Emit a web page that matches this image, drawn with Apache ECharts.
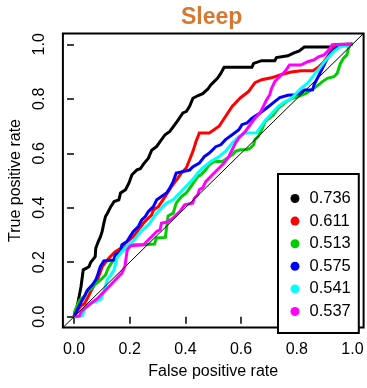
<!DOCTYPE html>
<html>
<head>
<meta charset="utf-8">
<script src="https://cdn.jsdelivr.net/npm/echarts@6/dist/echarts.min.js"></script>
<style>
html,body{margin:0;padding:0;background:#fff;}
#chart{width:367px;height:388px;}
</style>
</head>
<body>
<div id="chart"></div>
<script>
// ---- data ----
const chartTitle = 'Sleep';
const xTitle = 'False positive rate';
const yTitle = 'True positive rate';
const tickValues = [0, 0.2, 0.4, 0.6, 0.8, 1.0];
const aucLabels = ['0.736', '0.611', '0.513', '0.575', '0.541', '0.537'];
const curveColors = ['#000000', '#FF0000', '#00CD00', '#0000FF', '#00FFFF', '#FF00FF'];

const rocBlack = [[0,0],[0.007,0.0125],[0.017,0.068],[0.025,0.11],[0.033,0.172],[0.045,0.178],[0.054,0.184],[0.06,0.2],[0.076,0.22],[0.078,0.251],[0.087,0.276],[0.095,0.294],[0.101,0.313],[0.107,0.343],[0.113,0.368],[0.12,0.38],[0.132,0.404],[0.144,0.423],[0.161,0.429],[0.167,0.454],[0.185,0.466],[0.197,0.49],[0.208,0.521],[0.226,0.539],[0.238,0.543],[0.25,0.561],[0.267,0.582],[0.279,0.611],[0.297,0.625],[0.309,0.643],[0.327,0.668],[0.344,0.68],[0.362,0.705],[0.373,0.721],[0.391,0.748],[0.403,0.753],[0.415,0.772],[0.427,0.802],[0.444,0.811],[0.462,0.819],[0.48,0.835],[0.491,0.851],[0.503,0.863],[0.515,0.875],[0.527,0.893],[0.539,0.916],[0.639,0.916],[0.645,0.93],[0.674,0.94],[0.721,0.94],[0.727,0.951],[0.768,0.958],[0.786,0.967],[0.809,0.976],[0.827,0.99],[0.933,0.99],[0.939,0.999],[1,1]];
const rocRed = [[0,0],[0.007,0.014],[0.024,0.039],[0.038,0.049],[0.048,0.068],[0.061,0.094],[0.073,0.117],[0.085,0.139],[0.101,0.183],[0.125,0.215],[0.148,0.239],[0.168,0.251],[0.191,0.276],[0.213,0.294],[0.231,0.319],[0.249,0.343],[0.261,0.356],[0.279,0.374],[0.285,0.392],[0.303,0.404],[0.327,0.441],[0.35,0.478],[0.373,0.509],[0.385,0.527],[0.403,0.546],[0.415,0.576],[0.427,0.607],[0.438,0.643],[0.45,0.674],[0.486,0.674],[0.521,0.699],[0.544,0.735],[0.568,0.772],[0.597,0.803],[0.627,0.827],[0.65,0.859],[0.674,0.87],[0.709,0.877],[0.745,0.889],[0.78,0.898],[0.815,0.903],[0.858,0.903],[0.88,0.918],[0.898,0.936],[0.915,0.961],[0.927,0.979],[0.945,0.999],[1,1]];
const rocGreen = [[0,0],[0.002,0.018],[0.01,0.039],[0.02,0.061],[0.038,0.076],[0.045,0.091],[0.061,0.102],[0.073,0.117],[0.087,0.128],[0.101,0.141],[0.113,0.153],[0.123,0.179],[0.137,0.201],[0.148,0.216],[0.16,0.231],[0.173,0.249],[0.203,0.264],[0.25,0.264],[0.289,0.267],[0.296,0.289],[0.328,0.291],[0.338,0.37],[0.356,0.38],[0.367,0.417],[0.385,0.44],[0.403,0.454],[0.419,0.477],[0.432,0.496],[0.444,0.514],[0.456,0.521],[0.473,0.539],[0.486,0.558],[0.503,0.57],[0.533,0.57],[0.55,0.582],[0.568,0.594],[0.58,0.607],[0.597,0.613],[0.621,0.613],[0.633,0.619],[0.645,0.631],[0.65,0.65],[0.662,0.662],[0.674,0.686],[0.686,0.716],[0.697,0.726],[0.715,0.74],[0.733,0.765],[0.762,0.789],[0.78,0.8],[0.804,0.808],[0.833,0.82],[0.851,0.832],[0.869,0.844],[0.892,0.863],[0.91,0.875],[0.933,0.881],[0.945,0.893],[0.951,0.912],[0.957,0.93],[0.968,0.949],[0.98,0.961],[0.986,0.985],[0.992,0.998],[1,1]];
const rocBlue = [[0,0],[0.008,0.018],[0.017,0.037],[0.026,0.055],[0.037,0.074],[0.048,0.098],[0.066,0.117],[0.078,0.135],[0.086,0.157],[0.094,0.183],[0.107,0.205],[0.143,0.208],[0.148,0.227],[0.166,0.239],[0.172,0.264],[0.19,0.276],[0.201,0.294],[0.213,0.313],[0.231,0.331],[0.243,0.355],[0.256,0.368],[0.267,0.386],[0.285,0.404],[0.297,0.429],[0.314,0.441],[0.332,0.454],[0.344,0.472],[0.356,0.496],[0.367,0.527],[0.373,0.533],[0.415,0.538],[0.426,0.55],[0.45,0.564],[0.468,0.588],[0.486,0.601],[0.509,0.624],[0.527,0.631],[0.544,0.65],[0.568,0.668],[0.592,0.686],[0.603,0.705],[0.621,0.711],[0.639,0.729],[0.668,0.748],[0.692,0.766],[0.715,0.785],[0.739,0.804],[0.768,0.813],[0.792,0.815],[0.809,0.82],[0.827,0.832],[0.857,0.833],[0.862,0.851],[0.874,0.875],[0.886,0.9],[0.898,0.924],[0.91,0.949],[0.921,0.967],[0.939,0.985],[0.957,0.998],[1,1]];
const rocCyan = [[0,0],[0.019,0],[0.031,0.006],[0.038,0.028],[0.049,0.039],[0.066,0.053],[0.078,0.055],[0.097,0.065],[0.108,0.094],[0.119,0.135],[0.13,0.15],[0.144,0.172],[0.154,0.216],[0.172,0.239],[0.184,0.251],[0.196,0.264],[0.213,0.278],[0.225,0.294],[0.243,0.315],[0.254,0.325],[0.272,0.343],[0.284,0.362],[0.297,0.38],[0.314,0.399],[0.332,0.417],[0.356,0.429],[0.373,0.447],[0.391,0.466],[0.415,0.492],[0.426,0.503],[0.444,0.527],[0.462,0.546],[0.491,0.57],[0.521,0.588],[0.544,0.607],[0.568,0.638],[0.592,0.662],[0.615,0.674],[0.656,0.675],[0.668,0.693],[0.686,0.72],[0.709,0.745],[0.733,0.771],[0.756,0.789],[0.78,0.8],[0.798,0.82],[0.815,0.838],[0.839,0.857],[0.862,0.888],[0.886,0.918],[0.91,0.949],[0.933,0.973],[0.957,0.991],[1,1]];
const rocMagenta = [[0,0],[0.019,0.003],[0.025,0.017],[0.038,0.031],[0.061,0.049],[0.085,0.068],[0.108,0.092],[0.125,0.11],[0.137,0.123],[0.154,0.141],[0.172,0.16],[0.183,0.186],[0.191,0.245],[0.203,0.26],[0.25,0.264],[0.261,0.276],[0.279,0.294],[0.297,0.313],[0.309,0.319],[0.314,0.343],[0.338,0.349],[0.356,0.362],[0.367,0.374],[0.38,0.386],[0.397,0.411],[0.426,0.417],[0.432,0.435],[0.444,0.447],[0.45,0.466],[0.462,0.473],[0.473,0.496],[0.497,0.521],[0.521,0.546],[0.539,0.564],[0.556,0.588],[0.568,0.613],[0.58,0.638],[0.592,0.656],[0.615,0.68],[0.633,0.705],[0.65,0.729],[0.668,0.748],[0.68,0.772],[0.692,0.797],[0.703,0.815],[0.709,0.837],[0.721,0.863],[0.733,0.876],[0.751,0.893],[0.762,0.906],[0.774,0.924],[0.815,0.924],[0.839,0.936],[0.862,0.943],[0.88,0.955],[0.898,0.961],[0.915,0.979],[0.927,0.998],[1,1]];
const rocCurves = [rocBlack, rocRed, rocGreen, rocBlue, rocCyan, rocMagenta];
const diagonal = [[-0.04,-0.04],[1.04,1.04]];

// ---- chart ----
const FONT = 'Liberation Sans';
const chart = echarts.init(document.getElementById('chart'), null, {renderer: 'canvas'});

const series = rocCurves.map((pts, i) => ({
  name: aucLabels[i],
  type: 'line',
  data: pts,
  symbol: 'none',
  smooth: false,
  lineStyle: {color: curveColors[i], width: 3, join: 'miter'},
  itemStyle: {color: curveColors[i]},
  z: 2 + i
}));
series.push({
  name: 'diag',
  type: 'line',
  data: diagonal,
  symbol: 'none',
  lineStyle: {color: '#000', width: 1},
  itemStyle: {color: '#000'},
  z: 10
});

const tickFmt = v => Number(v).toFixed(1);

chart.setOption({
  animation: false,
  title: {
    text: chartTitle,
    left: 176, top: 1,
    textStyle: {fontFamily: FONT, fontSize: 23, fontWeight: 'bold', color: '#D6782F'}
  },
  grid: {
    left: 58, right: 3.4, top: 33.4, bottom: 60.4,
    show: true, borderColor: '#000', borderWidth: 2, backgroundColor: 'transparent'
  },
  legend: {
    data: aucLabels,
    orient: 'vertical',
    left: 278, top: 174,
    icon: 'circle',
    itemWidth: 19, itemHeight: 9,
    itemGap: 5.6,
    padding: [16, 8, 13, 12.5],
    borderColor: '#000', borderWidth: 2,
    backgroundColor: '#fff',
    textStyle: {fontFamily: FONT, fontSize: 16.5, color: '#000', lineHeight: 16},
    selectedMode: false
  },
  xAxis: {
    type: 'value', min: -0.04, max: 1.04,
    name: xTitle, nameLocation: 'middle', nameGap: 36,
    nameTextStyle: {fontFamily: FONT, fontSize: 16, color: '#000'},
    axisLine: {show: false},
    splitLine: {show: false},
    axisTick: {show: true, customValues: tickValues, length: 7, lineStyle: {color: '#000', width: 1.5}},
    axisLabel: {customValues: tickValues, formatter: tickFmt, margin: 14,
      fontFamily: FONT, fontSize: 16, color: '#000'}
  },
  yAxis: {
    type: 'value', min: -0.04, max: 1.04,
    name: yTitle, nameLocation: 'middle', nameGap: 36,
    nameTextStyle: {fontFamily: FONT, fontSize: 16, color: '#000'},
    axisLine: {show: false},
    splitLine: {show: false},
    axisTick: {show: true, customValues: tickValues, length: 7, lineStyle: {color: '#000', width: 1.5}},
    axisLabel: {customValues: tickValues, formatter: tickFmt, margin: 15, rotate: 90,
      fontFamily: FONT, fontSize: 16, color: '#000'}
  },
  series: series
});
</script>
</body>
</html>
